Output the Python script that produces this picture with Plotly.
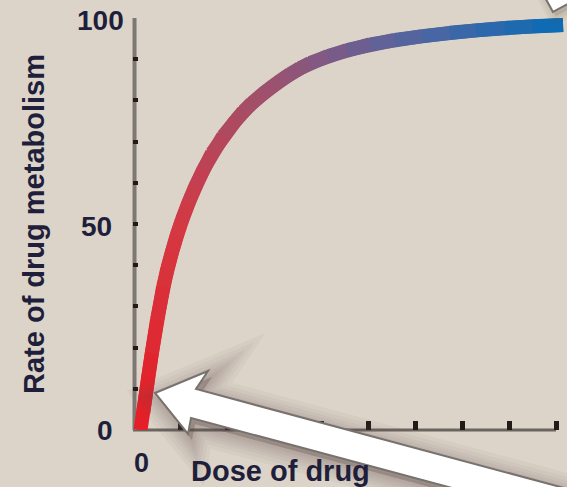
import plotly.graph_objects as go

# ---------------- data ----------------
dose = [0.16, 0.22, 0.27, 0.33, 0.40, 0.51, 0.64, 0.73, 0.83, 0.93, 1.04, 1.18,
        1.32, 1.50, 1.68, 1.92, 2.19, 2.35, 2.53, 2.75, 2.96, 3.15, 3.34, 3.55,
        3.77, 4.15, 4.55, 5.05, 5.57, 6.15, 6.74, 7.30, 7.91, 8.50, 9.15]
rate = [0.0, 4.3, 8.5, 13.3, 18.7, 26.7, 34.7, 39.2, 43.2, 47.3, 51.0, 55.2,
        59.0, 63.3, 67.2, 71.4, 75.2, 77.4, 79.4, 81.5, 83.3, 84.9, 86.4, 87.8,
        89.1, 90.8, 92.2, 93.6, 94.7, 95.6, 96.4, 97.0, 97.6, 98.0, 98.3]
y_tick_labels = ["0", "50", "100"]
y_tick_values = [0, 50, 100]
x_tick_values = list(range(0, 10))
x_tick_label = "0"
x_title = "Dose of drug"
y_title = "Rate of drug metabolism"

# ---------------- styling ----------------
BG = "#dcd4c9"
TXT = "#1f1f3b"
FONT = "Liberation Sans"
L, T, W, H = 133, 18, 567, 487
PW, PH = W - L, 412           # plot area in px
B = H - T - PH
XMAX = PW / 47.0              # 47 px per dose unit

def paper(px, py):
    return (px - L) / PW, (T + PH - py) / PH

def path_px(pts):
    s = ""
    for i, (a, b) in enumerate(pts):
        u, v = paper(a, b)
        s += ("M" if i == 0 else "L") + f"{u:.5f},{v:.5f} "
    return s + "Z"

stops = [(0.0, (229, 30, 38)), (0.30, (212, 56, 66)), (0.56, (155, 82, 112)),
         (0.76, (88, 100, 158)), (1.0, (8, 108, 182))]

def colour(f):
    for (f0, c0), (f1, c1) in zip(stops[:-1], stops[1:]):
        if f <= f1:
            t = (f - f0) / (f1 - f0) if f1 > f0 else 0
            return "rgb(%d,%d,%d)" % tuple(round(c0[k] + t * (c1[k] - c0[k])) for k in range(3))
    return "rgb(%d,%d,%d)" % stops[-1][1]

# arc length in pixel space for the colour gradient
pxs = [L + x * 47 for x in dose]
pys = [T + PH - y * PH / 100 for y in rate]
arc = [0.0]
for i in range(1, len(pxs)):
    arc.append(arc[-1] + ((pxs[i] - pxs[i - 1]) ** 2 + (pys[i] - pys[i - 1]) ** 2) ** 0.5)
total = arc[-1]

fig = go.Figure()
for i in range(len(dose) - 1):
    f = (arc[i] + arc[i + 1]) / 2 / total
    fig.add_trace(go.Scatter(
        x=dose[i:i + 3], y=rate[i:i + 3], mode="lines",
        line=dict(color=colour(f), width=14),
        hoverinfo="skip", showlegend=False))

shapes = []
# axis lines
shapes.append(dict(type="line", xref="x", yref="paper", x0=0, x1=9, y0=0, y1=0,
                   line=dict(color="#6b6560", width=3), layer="below"))
shapes.append(dict(type="line", xref="paper", yref="y", x0=0.0035, x1=0.0035, y0=0, y1=100,
                   line=dict(color="#7d7872", width=4), layer="below"))

# big white arrow with soft shadow
arrow = [(155, 393), (208, 371), (196, 389), (620, 503), (620, 533),
         (191, 418), (188, 434)]
arrow_path = path_px(arrow)
shadow_path = path_px([(a + 4, b + 6) for a, b in arrow])
for w in [40, 32, 25, 19, 14, 9, 5]:
    shapes.append(dict(type="path", xref="paper", yref="paper", path=shadow_path,
                       fillcolor="rgba(95,85,75,0.05)",
                       line=dict(color="rgba(95,85,75,0.05)", width=w), layer="above"))
shapes.append(dict(type="path", xref="paper", yref="paper", path=arrow_path,
                   fillcolor="white", line=dict(color="#77726d", width=2), layer="above"))

# small arrow tip at the top right
tip = [(553, 12), (542, -8), (590, -8)]
for w in [16, 10, 5]:
    shapes.append(dict(type="path", xref="paper", yref="paper",
                       path=path_px([(a + 3, b + 4) for a, b in tip]),
                       fillcolor="rgba(95,85,75,0.06)",
                       line=dict(color="rgba(95,85,75,0.06)", width=w), layer="above"))
shapes.append(dict(type="path", xref="paper", yref="paper", path=path_px(tip),
                   fillcolor="white", line=dict(color="#77726d", width=2), layer="above"))

annotations = []
y_label_x = {"0": 105, "50": 96, "100": 100}
for v, s in zip(y_tick_values, y_tick_labels):
    annotations.append(dict(text=s, xref="paper", yref="y", x=paper(y_label_x[s], 0)[0],
                            y=v, yshift=-2 if v else 0, xanchor="center", yanchor="middle",
                            showarrow=False, font=dict(family=FONT, size=28, color=TXT)))
annotations.append(dict(text=x_tick_label, xref="x", yref="paper", x=0, xshift=8,
                        y=paper(0, 463)[1], xanchor="center", yanchor="middle",
                        showarrow=False, font=dict(family=FONT, size=27, color=TXT)))
annotations.append(dict(text=x_title, xref="paper", yref="paper", x=paper(189, 0)[0],
                        y=paper(0, 471)[1], xanchor="left", yanchor="middle",
                        showarrow=False, font=dict(family=FONT, size=29, color=TXT)))
annotations.append(dict(text=y_title, xref="paper", yref="paper", x=paper(34, 0)[0],
                        y=0.5, xanchor="center", yanchor="middle", textangle=-90,
                        showarrow=False, font=dict(family=FONT, size=29, color=TXT)))
for a in annotations:
    a["text"] = "<b>" + a["text"] + "</b>"

fig.update_layout(
    width=W, height=H, margin=dict(l=L, r=W - L - PW, t=T, b=B, pad=0),
    paper_bgcolor=BG, plot_bgcolor=BG,
    xaxis=dict(range=[0, XMAX], showgrid=False, zeroline=False, showline=False,
               tickvals=x_tick_values, ticks="inside", ticklen=9, tickwidth=5,
               tickcolor="#231a17", showticklabels=False, fixedrange=True),
    yaxis=dict(range=[0, 100], showgrid=False, zeroline=False, showline=False,
               tickvals=list(range(0, 101, 10)), ticks="inside", ticklen=5, tickwidth=4,
               tickcolor="#231a17", showticklabels=False, fixedrange=True),
    shapes=shapes, annotations=annotations, showlegend=False,
)

fig.write_html("out.html", config={"displayModeBar": False, "staticPlot": True},
               post_script="document.body.style.margin='0';"
                           "document.body.style.overflow='hidden';"
                           "document.body.style.background='" + BG + "';")
